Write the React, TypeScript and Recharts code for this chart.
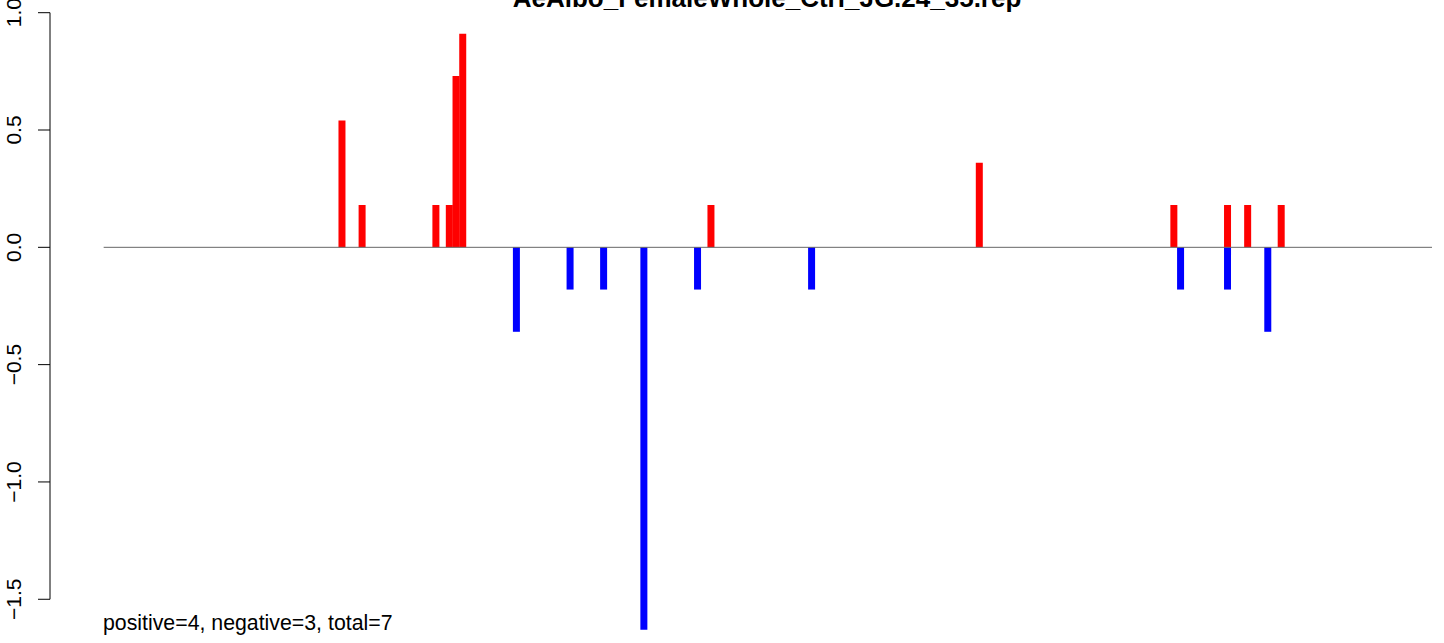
import React from "react";
import {
  ComposedChart,
  Bar,
  XAxis,
  YAxis,
  ReferenceLine,
} from "recharts";

const TITLE = "AeAlbo_FemaleWhole_Ctrl_JG.24_35.rep";
const FOOTNOTE = "positive=4, negative=3, total=7";

// slot positions along the sequence and the bar heights
const SLOT_COUNT = 206;
const POS_SLOTS = [43, 46, 57, 59, 60, 61, 98, 138, 167, 175, 178, 183];
const POS_VALUES = [0.54, 0.18, 0.18, 0.18, 0.73, 0.91, 0.18, 0.36, 0.18, 0.18, 0.18, 0.18];
const NEG_SLOTS = [69, 77, 82, 88, 96, 113, 168, 175, 181];
const NEG_VALUES = [-0.36, -0.18, -0.18, -1.63, -0.18, -0.18, -0.18, -0.18, -0.36];

const Y_TICKS = [-1.5, -1.0, -0.5, 0.0, 0.5, 1.0];
const Y_DOMAIN = [-1.68, 1.02];
const ZERO_LINE_START = 8;

const FONT = "'Liberation Sans', Arial, Helvetica, sans-serif";

const rows = Array.from({ length: SLOT_COUNT }, (_, i) => {
  const p = POS_SLOTS.indexOf(i);
  const n = NEG_SLOTS.indexOf(i);
  return {
    slot: i,
    pos: p >= 0 ? POS_VALUES[p] : null,
    neg: n >= 0 ? NEG_VALUES[n] : null,
  };
});

function YTick(props: any) {
  const { x, y, payload } = props;
  return (
    <text
      x={0}
      y={0}
      transform={`translate(${x - 17},${y}) rotate(-90)`}
      textAnchor="middle"
      fontFamily={FONT}
      fontSize={21}
      fill="#000"
    >
      {payload.value.toFixed(1).replace("-", "\u2212")}
    </text>
  );
}

export default function App() {
  return (
    <div
      style={{
        position: "absolute",
        left: 0,
        top: 0,
        width: 1444,
        height: 643,
        background: "#fff",
      }}
    >
      <ComposedChart
        width={1444}
        height={643}
        data={rows}
        stackOffset="sign"
        barCategoryGap={0}
        barGap={0}
        margin={{ top: 8, right: 12, bottom: 1.5, left: 0 }}
      >
        <XAxis xAxisId="cat" dataKey="slot" type="category" hide />
        <XAxis
          xAxisId="num"
          dataKey="slot"
          type="number"
          domain={[0, SLOT_COUNT]}
          allowDataOverflow
          hide
        />
        <YAxis
          type="number"
          domain={Y_DOMAIN}
          ticks={Y_TICKS}
          allowDataOverflow
          width={50}
          axisLine={false}
          tickSize={12}
          tickMargin={0}
          tickLine={{ stroke: "#000", strokeWidth: 1 }}
          tick={<YTick />}
          interval={0}
        />
        <ReferenceLine
          xAxisId="num"
          segment={[
            { x: ZERO_LINE_START, y: 0 },
            { x: SLOT_COUNT, y: 0 },
          ]}
          stroke="#666"
          strokeWidth={1}
          ifOverflow="visible"
        />
        <Bar
          xAxisId="cat"
          dataKey="pos"
          stackId="s"
          fill="#ff0000"
          isAnimationActive={false}
        />
        <Bar
          xAxisId="cat"
          dataKey="neg"
          stackId="s"
          fill="#0000ff"
          isAnimationActive={false}
        />
        <ReferenceLine
          xAxisId="num"
          segment={[
            { x: 0, y: Y_TICKS[Y_TICKS.length - 1] },
            { x: 0, y: Y_TICKS[0] },
          ]}
          stroke="#000"
          strokeWidth={1}
          ifOverflow="visible"
        />
      </ComposedChart>
      <svg
        width={1444}
        height={643}
        style={{ position: "absolute", left: 0, top: 0, pointerEvents: "none" }}
      >
        <text
          x={767}
          y={7}
          textAnchor="middle"
          fontFamily={FONT}
          fontWeight="bold"
          fontSize={26}
          fill="#000"
        >
          {TITLE}
        </text>
        <text x={103} y={630} fontFamily={FONT} fontSize={21.3} fill="#000">
          {FOOTNOTE}
        </text>
      </svg>
    </div>
  );
}
